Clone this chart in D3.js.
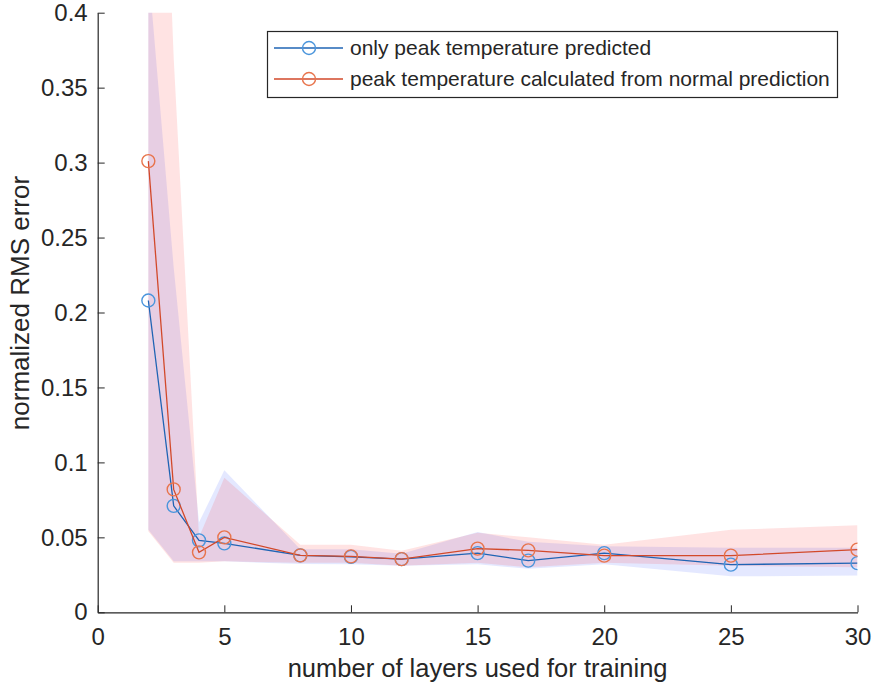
<!DOCTYPE html>
<html>
<head>
<meta charset="utf-8">
<script src="https://cdn.jsdelivr.net/npm/d3@7"></script>
<style>
  html, body { margin: 0; padding: 0; background: #fff; }
  svg { display: block; font-family: "Liberation Sans", Arial, Helvetica, sans-serif; }
</style>
</head>
<body>
<svg id="chart" width="872" height="688"></svg>
<script>
// number of layers used for training
const layers = [2, 3, 4, 5, 8, 10, 12, 15, 17, 20, 25, 30];

// mean normalized RMS error per configuration
const onlyPeak   = [0.208, 0.071, 0.048, 0.046, 0.038, 0.037, 0.0355, 0.0395, 0.0345, 0.0395, 0.0318, 0.0328];
const fromNormal = [0.301, 0.082, 0.040, 0.050, 0.038, 0.0373, 0.0355, 0.0425, 0.0413, 0.0378, 0.0378, 0.0418];

// spread (min / max) around each mean
const onlyPeakLow   = [0.055, 0.034, 0.034, 0.034, 0.0322, 0.032, 0.031, 0.032, 0.029, 0.032, 0.024, 0.0245];
const onlyPeakHigh  = [0.43, 0.23, 0.06, 0.0947, 0.042, 0.042, 0.039, 0.0536, 0.047, 0.044, 0.043, 0.043];
const fromNormalLow  = [0.054, 0.033, 0.033, 0.034, 0.033, 0.033, 0.031, 0.033, 0.030, 0.033, 0.031, 0.030];
const fromNormalHigh = [0.8, 0.37, 0.05, 0.0898, 0.045, 0.045, 0.041, 0.053, 0.050, 0.045, 0.055, 0.058];

const xTicks = [0, 5, 10, 15, 20, 25, 30];
const yTicks = [0, 0.05, 0.1, 0.15, 0.2, 0.25, 0.3, 0.35, 0.4];

const seriesNames = ["only peak temperature predicted",
                     "peak temperature calculated from normal prediction"];

const svg = d3.select("#chart");
const m = { left: 97.7, right: 857.5, top: 12.7, bottom: 612.3 };

const x = d3.scaleLinear().domain([0, 30]).range([m.left, m.right]);
const y = d3.scaleLinear().domain([0, 0.4]).range([m.bottom, m.top]);

const axisColor = "#262626";

svg.append("defs").append("clipPath").attr("id", "plotClip")
  .append("rect").attr("x", m.left).attr("y", m.top)
  .attr("width", m.right - m.left).attr("height", m.bottom - m.top);

const plot = svg.append("g").attr("clip-path", "url(#plotClip)");

const area = d3.area()
  .x((d, i) => x(layers[i]))
  .y0(d => y(d[0]))
  .y1(d => y(d[1]));

const bands = [
  { low: onlyPeakLow, high: onlyPeakHigh, fill: "#3050ff", op: 0.13 },
  { low: fromNormalLow, high: fromNormalHigh, fill: "#ff1a1a", op: 0.12 }
];
bands.forEach(b => {
  plot.append("path")
    .datum(b.low.map((v, i) => [v, b.high[i]]))
    .attr("d", area)
    .attr("fill", b.fill)
    .attr("fill-opacity", b.op)
    .attr("stroke", "none");
});

const series = [
  { values: onlyPeak, line: "#1f64b4", marker: "#4a95dc" },
  { values: fromNormal, line: "#d2492a", marker: "#e8744c" }
];

const line = d3.line().x((d, i) => x(layers[i])).y(d => y(d));

series.forEach(s => {
  plot.append("path")
    .datum(s.values)
    .attr("d", line)
    .attr("fill", "none")
    .attr("stroke", s.line)
    .attr("stroke-width", 1.3);
  plot.selectAll(null)
    .data(s.values)
    .enter().append("circle")
    .attr("cx", (d, i) => x(layers[i]))
    .attr("cy", d => y(d))
    .attr("r", 6.5)
    .attr("fill", "none")
    .attr("stroke", s.marker)
    .attr("stroke-width", 1.4);
});

// axes with inward ticks, no box
const xAxis = d3.axisBottom(x).tickValues(xTicks).tickSizeInner(-7).tickSizeOuter(0)
  .tickPadding(16).tickFormat(d3.format("d"));
const gx = svg.append("g").attr("transform", `translate(0,${m.bottom})`).call(xAxis);

const yAxis = d3.axisLeft(y).tickValues(yTicks).tickSizeInner(-7).tickSizeOuter(0)
  .tickPadding(10).tickFormat(d => d === 0 ? "0" : String(+d.toFixed(2)));
const gy = svg.append("g").attr("transform", `translate(${m.left},0)`).call(yAxis);

[gx, gy].forEach(g => {
  g.select(".domain").attr("stroke", axisColor).attr("stroke-width", 1.2);
  g.selectAll(".tick line").attr("stroke", axisColor).attr("stroke-width", 1);
  g.selectAll(".tick text").attr("fill", axisColor).style("font-size", "24px")
    .style("font-family", "'Liberation Sans', Arial, sans-serif");
});

// axis labels
svg.append("text")
  .attr("x", (m.left + m.right) / 2).attr("y", 677)
  .attr("text-anchor", "middle")
  .attr("fill", axisColor)
  .style("font-size", "25.5px")
  .text("number of layers used for training");

svg.append("text")
  .attr("transform", `translate(29,303) rotate(-90)`)
  .attr("text-anchor", "middle")
  .attr("fill", axisColor)
  .style("font-size", "26px")
  .text("normalized RMS error");

// legend
const lg = svg.append("g");
lg.append("rect")
  .attr("x", 267.5).attr("y", 31.5).attr("width", 570).attr("height", 66)
  .attr("fill", "#fff").attr("stroke", axisColor).attr("stroke-width", 1.2);
series.forEach((s, i) => {
  const cy = 48 + i * 31;
  lg.append("line").attr("x1", 274).attr("x2", 343).attr("y1", cy).attr("y2", cy)
    .attr("stroke", s.line).attr("stroke-width", 1.3);
  lg.append("circle").attr("cx", 309).attr("cy", cy).attr("r", 6.5)
    .attr("fill", "none").attr("stroke", s.marker).attr("stroke-width", 1.4);
  lg.append("text").attr("x", 350).attr("y", cy).attr("dy", "0.35em")
    .attr("fill", axisColor).style("font-size", "21px")
    .text(seriesNames[i]);
});
</script>
</body>
</html>
